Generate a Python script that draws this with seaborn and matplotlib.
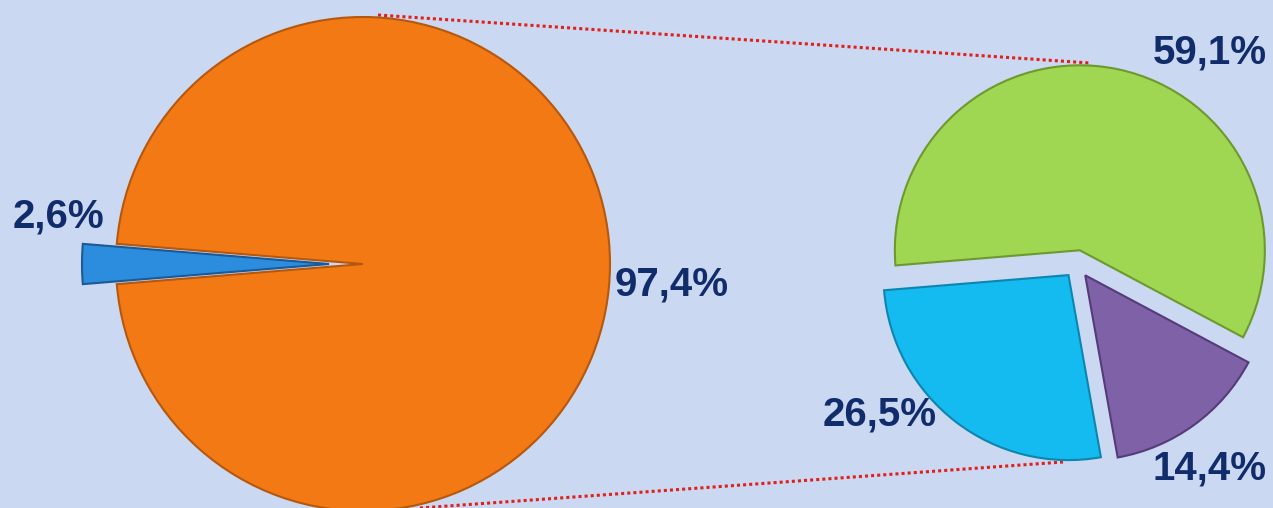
import matplotlib
matplotlib.use("Agg")
import matplotlib.pyplot as plt
import seaborn as sns

sns.set_style("white")
plt.rcParams['font.family'] = ['Liberation Sans', 'DejaVu Sans']

# ---- data ----
main_labels = ["2,6%", "97,4%"]
main_values = [2.6, 97.4]
sub_labels = ["59,1%", "14,4%", "26,5%"]
sub_values = [59.1, 14.4, 26.5]

main_colors = ["#2C8CDD", "#F27914"]
main_edges = ["#1B5A96", "#B5580E"]
sub_colors = ["#9FD652", "#7F61A7", "#13BBF0"]
sub_edges = ["#6C9A2E", "#553C78", "#0C86AE"]
label_color = "#112C6B"
bg = "#CBD8F2"

W, H = 1273, 508
fig = plt.figure(figsize=(W / 100, H / 100), dpi=100)
fig.patch.set_facecolor(bg)
ax = fig.add_axes([0, 0, 1, 1])
ax.set_facecolor(bg)

def Y(py):
    return H - py

# connector lines
ax.plot([378, 1090], [Y(15), Y(63)], color="#E0201A", lw=2.2,
        linestyle=(0, (1, 1)), zorder=1)
ax.plot([420, 1063], [Y(508), Y(462)], color="#E0201A", lw=2.2,
        linestyle=(0, (1, 1)), zorder=1)

# main pie (explode values are in pixel units here)
r1 = 247
start1 = 180 - main_values[0] * 3.6 / 2
wedges1, _ = ax.pie(main_values, colors=main_colors, startangle=start1,
                    counterclock=True, radius=r1, center=(363, Y(264)),
                    explode=[34, 0], frame=True,
                    wedgeprops=dict(linewidth=1.5))
for w, ec in zip(wedges1, main_edges):
    w.set_edgecolor(ec)
    w.set_zorder(2)

# sub pie
r2 = 185
wedges2, _ = ax.pie(sub_values, colors=sub_colors, startangle=184.7,
                    counterclock=False, radius=r2, center=(1077, Y(264)),
                    explode=[14, 14, 14], frame=True,
                    wedgeprops=dict(linewidth=1.5))
for w, ec in zip(wedges2, sub_edges):
    w.set_edgecolor(ec)
    w.set_zorder(2)

ax.set_xlim(0, W)
ax.set_ylim(0, H)
ax.set_aspect("auto")
ax.axis("off")

# labels
main_pos = [(58, 216), (672, 284)]
sub_pos = [(1210, 53), (1210, 469), (880, 414)]
for lab, (px, py) in zip(main_labels, main_pos):
    ax.text(px, Y(py), lab, ha="center", va="center", fontsize=29,
            fontweight="bold", color=label_color, zorder=5)
for lab, (px, py) in zip(sub_labels, sub_pos):
    ax.text(px, Y(py), lab, ha="center", va="center", fontsize=29,
            fontweight="bold", color=label_color, zorder=5)

fig.savefig("out.png", dpi=100, facecolor=bg)
